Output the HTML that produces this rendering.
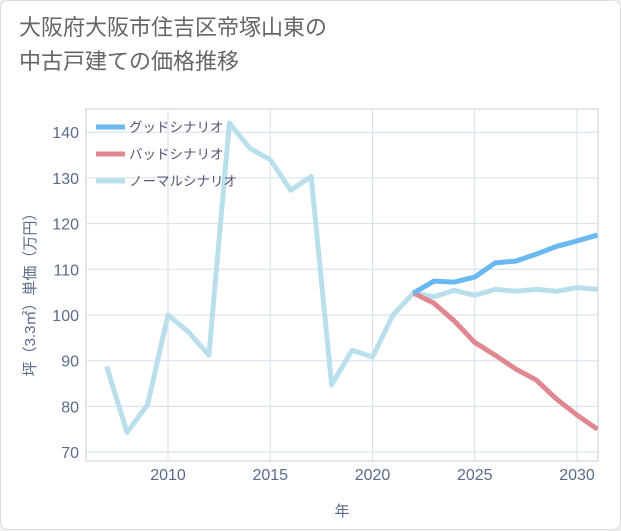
<!DOCTYPE html>
<html><head><meta charset="utf-8"><style>
body{margin:0;background:#f0f0f0;font-family:"Liberation Sans","Noto Sans CJK JP",sans-serif;}
#card{position:absolute;left:0;top:0;width:619px;height:528px;border:1px solid #ddd;border-radius:8px;background:#fff;}
h1{position:absolute;left:18px;top:10px;margin:0;font-weight:normal;font-size:22px;line-height:34px;color:#666;}
</style></head><body>
<div id="card">
<h1>大阪府大阪市住吉区帝塚山東の<br>中古戸建ての価格推移</h1>
<svg id="chart" width="621" height="530" style="position:absolute;left:0;top:0"></svg>
</div>
<script>
const years=[2007,2008,2009,2010,2011,2012,2013,2014,2015,2016,2017,2018,2019,2020,2021,2022,2023,2024,2025,2026,2027,2028,2029,2030,2031];
const normal=[88.7,74.3,80.4,100,96.3,91.2,142,136.5,134,127.3,130.3,84.7,92.3,90.8,100,104.8,104,105.4,104.3,105.6,105.2,105.6,105.2,106,105.6];
const goodYears=[2022,2023,2024,2025,2026,2027,2028,2029,2030,2031];
const good=[104.8,107.4,107.2,108.3,111.4,111.8,113.3,115,116.2,117.5];
const bad=[104.8,102.6,98.7,94,91.2,88.2,85.8,81.6,78.1,75];
const xTicks=[2010,2015,2020,2025,2030];
const yTicks=[70,80,90,100,110,120,130,140];
const NS="http://www.w3.org/2000/svg";
const svg=document.getElementById('chart');
const L=85,R=597,T=108,B=460;
const x=y=>167+(y-2010)*20.45;
const yv=v=>314-(v-100)*4.57;
function mk(t,a,p){const e=document.createElementNS(NS,t);for(const k in a)e.setAttribute(k,a[k]);(p||svg).appendChild(e);return e;}
mk('rect',{x:L,y:T,width:R-L,height:B-T,fill:'none',stroke:'#ccc'});
for(const t of xTicks){const g=mk('line',{x1:x(t),x2:x(t),y1:T,y2:B,stroke:'#d3e0e8'});


const tx=mk('text',{x:x(t),y:479,'text-anchor':'middle','font-size':16,fill:'#5a6a8a'});tx.textContent=t;

}
for(const t of yTicks){const g=mk('line',{x1:L,x2:R,y1:yv(t),y2:yv(t),stroke:'#d3e0e8'});


const tx=mk('text',{x:78,y:yv(t)+6,'text-anchor':'end','font-size':16,fill:'#5a6a8a'});tx.textContent=t;

}
const xt=mk('text',{x:341,y:515,'text-anchor':'middle','font-size':15,fill:'#5a6a8a'});xt.textContent='年';


const yt=mk('text',{x:0,y:0,'text-anchor':'middle','font-size':15,fill:'#5a6a8a',transform:'translate(34,290) rotate(-90)'});yt.textContent='坪（3.3㎡）単価（万円）';


const clip=mk('clipPath',{id:'c'});mk('rect',{x:L,y:T,width:R-L,height:B-T},clip);
function line(xs,vs,col,name){const p=mk('polyline',{points:xs.map((t,i)=>x(t)+','+yv(vs[i])).join(' '),fill:'none',stroke:col,'stroke-width':5,'stroke-linejoin':'round','clip-path':'url(#c)'});

}
line(years,normal,'#badfec','normal-series');
line(goodYears,bad,'#e08890','bad-series');
line(goodYears,good,'#6ab8f2','good-series');
const leg=[['グッドシナリオ','#6ab8f2'],['バッドシナリオ','#e08890'],['ノーマルシナリオ','#badfec']];
leg.forEach((l,i)=>{const yy=126+i*27;
const s=mk('line',{x1:95,x2:124,y1:yy,y2:yy,stroke:l[1],'stroke-width':5});


const tx=mk('text',{x:128,y:yy+5,'font-size':13.5,fill:'#557'});tx.textContent=l[0];

});
</script>
</body></html>
